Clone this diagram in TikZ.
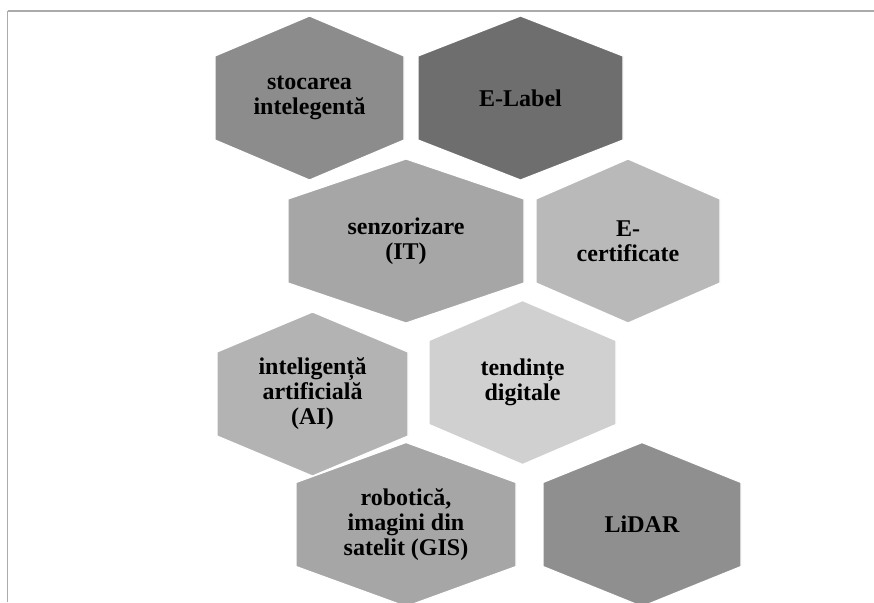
\documentclass[tikz,border=0pt]{standalone}
\usepackage{fontspec}
\setmainfont{Liberation Serif}[BoldFont={Liberation Serif Bold}]
\definecolor{hexA}{HTML}{8C8C8C}
\definecolor{hexB}{HTML}{6E6E6E}
\definecolor{hexC}{HTML}{A6A6A6}
\definecolor{hexD}{HTML}{B9B9B9}
\definecolor{hexE}{HTML}{B3B3B3}
\definecolor{hexF}{HTML}{D0D0D0}
\definecolor{hexG}{HTML}{A6A6A6}
\definecolor{hexH}{HTML}{8F8F8F}
\definecolor{frameclr}{HTML}{ABABAB}
\newcommand\hexpath[4]{% cx, cy, half width, colour
  \filldraw[hexfill=#4] (#1-#3,#2-42) -- (#1,#2-82) -- (#1+#3,#2-42) -- (#1+#3,#2+42) -- (#1,#2+82) -- (#1-#3,#2+42) -- cycle;}
\begin{document}
\begin{tikzpicture}[x=1pt,y=-1pt,
  hexfill/.style={fill=#1, draw=white, line width=1.2pt},
  hexlabel/.style={font=\bfseries\fontsize{24}{25}\selectfont, align=center, text=black, inner sep=0pt},
  frameline/.style={draw=frameclr, line width=1.8pt}]
\useasboundingbox (0,0) rectangle (874,602);
\draw[frameline] (7.5,11) -- (874,11);
\draw[frameline] (7.5,11) -- (7.5,602);
% row 1
\hexpath{309.5}{98}{94.5}{hexA}
\node[hexlabel] (stoc) at (309.5,98) {stocarea\\intelegentă};
\hexpath{520.5}{98}{102.5}{hexB}
\node[hexlabel] (elabel) at (520.5,98) {E-Label};
% row 2
\hexpath{406}{241}{118}{hexC}
\node[hexlabel] (senz) at (406,241) {senzorizare\\(IT)};
\hexpath{628}{241}{92}{hexD}
\node[hexlabel] (ecert) at (628,241) {E-\\certificate};
% row 3
\hexpath{312.5}{394}{95.5}{hexE}
\node[hexlabel] (ai) at (312.5,394) {inteligență\\artificială\\(AI)};
\hexpath{522.5}{382.5}{93.5}{hexF}
\node[hexlabel] (tend) at (522.5,382.5) {tendințe\\digitale};
% row 4
\hexpath{406}{524.5}{110}{hexG}
\node[hexlabel] (robot) at (406,524.5) {robotică,\\imagini din\\satelit (GIS)};
\hexpath{642}{524.5}{99}{hexH}
\node[hexlabel] (lidar) at (642,524.5) {LiDAR};
\end{tikzpicture}
\end{document}
